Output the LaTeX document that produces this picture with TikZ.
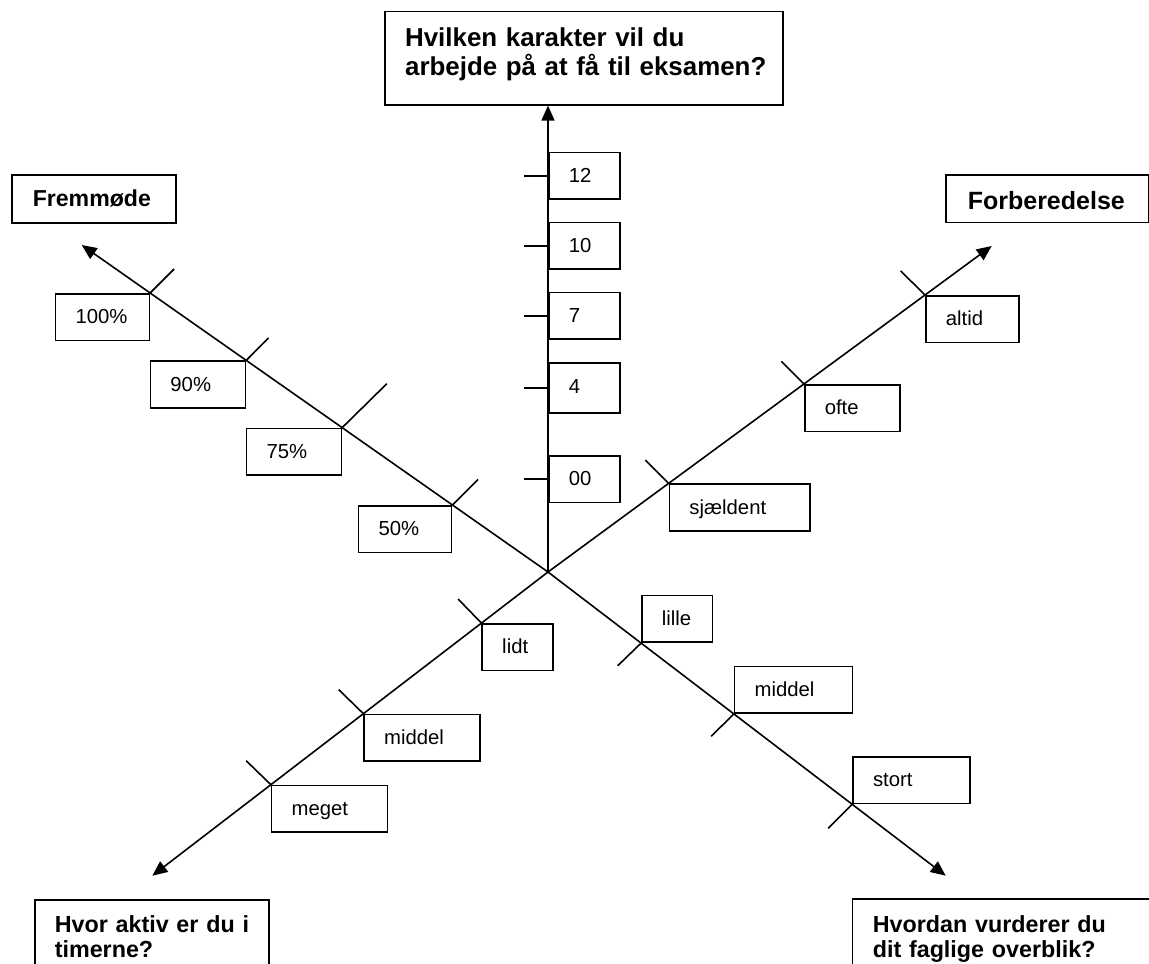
\documentclass[tikz,border=0pt]{standalone}
\usepackage{fontspec}
\setmainfont{Liberation Sans}
\usetikzlibrary{arrows.meta,calc}
\hyphenpenalty=10000\relax
\exhyphenpenalty=10000\relax
\begin{document}
\begin{tikzpicture}[x=1pt,y=-1pt,
  ln/.style={line width=1.6pt},
  ax/.style={line width=1.6pt,-{Triangle[length=15pt,width=13pt]}},
  lbl/.style={draw,line width=1.6pt,inner xsep=20pt,inner ysep=0pt,text height=30pt,text depth=16.6pt,align=left,font=\fontsize{20.3}{24}\selectfont},
  hdr/.style={draw,line width=1.6pt,inner ysep=0pt,align=left}
]
\useasboundingbox (0,0) rectangle (1149,964);
\clip (0,0) rectangle (1149,964);

% centre and arrow tips
\coordinate (C) at (548,572);
\coordinate (tNW) at (81.7,245);
\coordinate (tNE) at (991.7,246);
\coordinate (tSW) at (152.3,875.7);
\coordinate (tSE) at (945.7,875.7);

% headings
\node[hdr,anchor=north west,text width=358pt,inner xsep=20pt,text height=35.3pt,text depth=58pt,font=\fontsize{25.9}{29}\selectfont\bfseries] (qV) at (384.3,10.7) {\mbox{Hvilken karakter vil du}\\\mbox{arbejde på at få til eksamen?}};
\node[hdr,anchor=north west,text width=122pt,inner xsep=21pt,text height=31.7pt,text depth=16.3pt,font=\fontsize{23.1}{26}\selectfont\bfseries] (qNW) at (11,174.3) {Fremmøde};
\node[hdr,anchor=north west,text width=159pt,inner xsep=22pt,text height=34.7pt,text depth=12.7pt,font=\fontsize{25}{28}\selectfont\bfseries] (qNE) at (945,174.3) {\mbox{Forberedelse}};
\node[hdr,anchor=north west,text width=194.6pt,inner xsep=19.7pt,text height=33pt,text depth=80pt,font=\fontsize{23.3}{25}\selectfont\bfseries] (qSW) at (34.3,899) {\mbox{Hvor aktiv er du i}\\timerne?};
\node[hdr,anchor=north west,text width=280pt,inner xsep=20.3pt,text height=33.7pt,text depth=80pt,font=\fontsize{23.3}{25}\selectfont\bfseries] (qSE) at (851.7,898.3) {\mbox{Hvordan vurderer du}\\\mbox{dit faglige overblik?}};

% axes
\draw[ax] (C) -- (C |- qV.south);
\draw[ax] (C) -- (tNW);
\draw[ax] (C) -- (tNE);
\draw[ax] (C) -- (tSW);
\draw[ax] (C) -- (tSE);

% vertical scale
\node[lbl,anchor=north west,text width=31pt] (v12) at (548,151.7) {12};
\node[lbl,anchor=north west,text width=31pt] (v10) at (548,221.7) {10};
\node[lbl,anchor=north west,text width=31pt] (v7) at (548,291.7) {7};
\node[lbl,anchor=north west,text width=31pt,text depth=20pt] (v4) at (548,362.3) {4};
\node[lbl,anchor=north west,text width=31pt] (v00) at (548,455) {00};
\foreach \n in {v12,v10,v7,v4,v00}{
  \coordinate (\n t) at ($(\n.west)+(-24,0)$);
  \draw[ln] (\n.west) -- (\n t);
}

% NW scale (Fremmoede)
\coordinate (p100) at ($(C)!(151,291.7)!(tNW)$);
\coordinate (p90) at ($(C)!(246,360.7)!(tNW)$);
\coordinate (p75) at ($(C)!(340.5,430)!(tNW)$);
\coordinate (p50) at ($(C)!(454.3,502.3)!(tNW)$);
\node[lbl,anchor=north east,text width=53.7pt] (f100) at (p100) {100\%};
\node[lbl,anchor=north east,text width=55pt] (f90) at (p90) {90\%};
\node[lbl,anchor=north east,text width=54.7pt] (f75) at (p75) {75\%};
\node[lbl,anchor=north east,text width=53pt] (f50) at (p50) {50\%};
\coordinate (k100) at ($(p100)+(24,-24)$);
\coordinate (k90) at ($(p90)+(22.3,-22.4)$);
\coordinate (k75) at ($(p75)+(44.7,-44)$);
\coordinate (k50) at ($(p50)+(25.7,-25.6)$);
\draw[ln] (f100.north east) -- (k100);
\draw[ln] (f90.north east) -- (k90);
\draw[ln] (f75.north east) -- (k75);
\draw[ln] (f50.north east) -- (k50);

% NE scale (Forberedelse)
\coordinate (pal) at ($(C)!(922.7,291.7)!(tNE)$);
\coordinate (pof) at ($(C)!(804.3,384.3)!(tNE)$);
\coordinate (psj) at ($(C)!(665,478.3)!(tNE)$);
\node[lbl,anchor=north west,text width=53.3pt] (al) at (pal) {altid};
\node[lbl,anchor=north west,text width=55pt] (of) at (pof) {ofte};
\node[lbl,anchor=north west,text width=100.7pt] (sj) at (psj) {sjældent};
\coordinate (kal) at ($(pal)+(-24.4,-24)$);
\coordinate (kof) at ($(pof)+(-22.6,-22.6)$);
\coordinate (ksj) at ($(psj)+(-23.3,-23.3)$);
\draw[ln] (al.north west) -- (kal);
\draw[ln] (of.north west) -- (kof);
\draw[ln] (sj.north west) -- (ksj);

% SW scale (aktiv)
\coordinate (pli) at ($(C)!(478.3,619)!(tSW)$);
\coordinate (pmi) at ($(C)!(362.3,712.3)!(tSW)$);
\coordinate (pme) at ($(C)!(269,782.3)!(tSW)$);
\node[lbl,anchor=north west,text width=30.7pt] (li) at (pli) {lidt};
\node[lbl,anchor=north west,text width=76pt] (mi) at (pmi) {middel};
\node[lbl,anchor=north west,text width=76pt] (me) at (pme) {meget};
\coordinate (kli) at ($(pli)+(-23.3,-24)$);
\coordinate (kmi) at ($(pmi)+(-24.6,-24)$);
\coordinate (kme) at ($(pme)+(-24.7,-24)$);
\draw[ln] (li.north west) -- (kli);
\draw[ln] (mi.north west) -- (kmi);
\draw[ln] (me.north west) -- (kme);

% SE scale (overblik)
\coordinate (pll) at ($(C)!(641.7,642.3)!(tSE)$);
\coordinate (pmd) at ($(C)!(734.3,713.3)!(tSE)$);
\coordinate (pst) at ($(C)!(852.3,804.3)!(tSE)$);
\node[lbl,anchor=south west,text width=30.6pt] (ll) at (pll) {lille};
\node[lbl,anchor=south west,text width=78pt] (md) at (pmd) {middel};
\node[lbl,anchor=south west,text width=76.7pt] (st) at (pst) {stort};
\coordinate (kll) at ($(pll)+(-23.4,22.7)$);
\coordinate (kmd) at ($(pmd)+(-22.6,22.4)$);
\coordinate (kst) at ($(pst)+(-24,24)$);
\draw[ln] (ll.south west) -- (kll);
\draw[ln] (md.south west) -- (kmd);
\draw[ln] (st.south west) -- (kst);
\end{tikzpicture}
\end{document}
